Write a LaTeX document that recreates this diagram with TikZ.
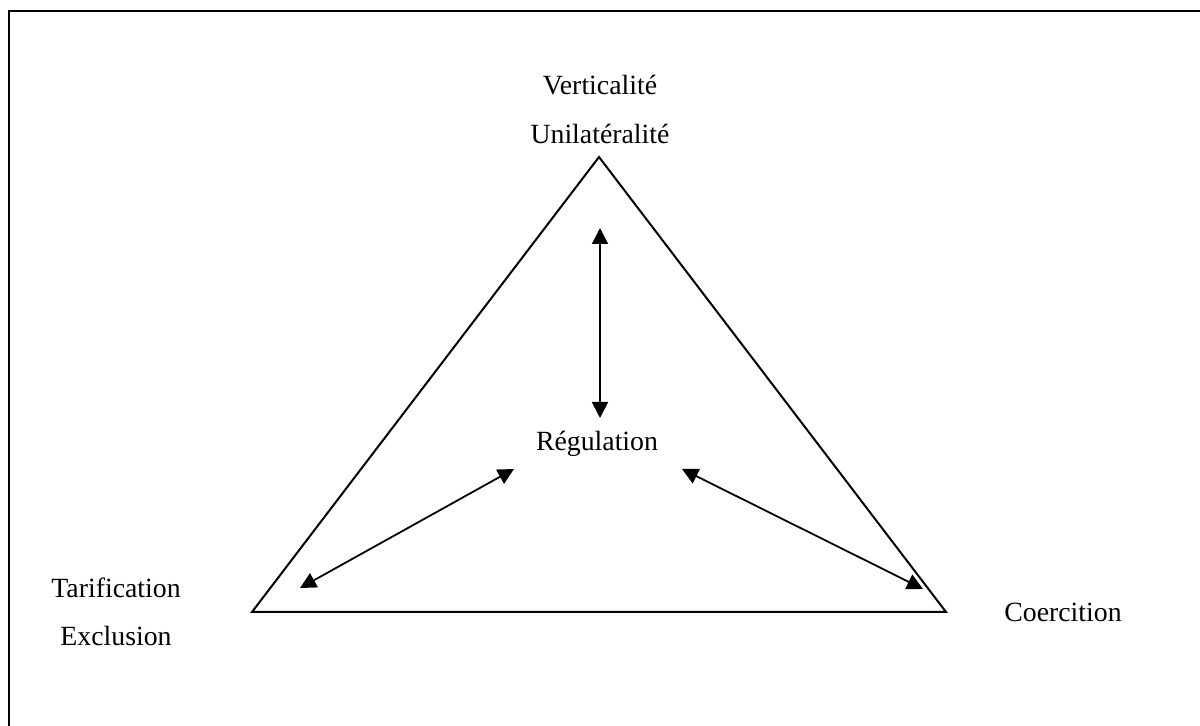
\documentclass[tikz,border=0pt]{standalone}
\usepackage{fontspec}
\setmainfont{Liberation Serif}
\usetikzlibrary{arrows.meta}
\begin{document}
\begin{tikzpicture}[x=0.5pt,y=-0.5pt,
  lbl/.style={font=\fontsize{13.9}{16}\selectfont, inner sep=0pt},
  edge/.style={line width=1pt, line join=miter},
  link/.style={line width=0.9pt, {Triangle[length=8pt,width=8pt]}-{Triangle[length=8pt,width=8pt]}}]
  \useasboundingbox (0,0) rectangle (1200,726);
  % outer frame, running off the right and bottom edges
  \begin{scope}
    \clip (0,0) rectangle (1200,726);
    \draw[line width=1.2pt] (9,11) rectangle (1210,740);
  \end{scope}
  % triangle
  \coordinate (top) at (599,157);
  \coordinate (bl) at (252,612);
  \coordinate (br) at (946,612);
  \draw[edge] (top) -- (br) -- (bl) -- cycle;
  % labels
  \node[lbl] (vert) at (600,85) {Verticalité};
  \node[lbl] (unil) at (600,134) {Unilatéralité};
  \node[lbl] (reg) at (597,444) {Régulation};
  \node[lbl] (tarif) at (116,588) {Tarification};
  \node[lbl] (excl) at (116,636) {Exclusion};
  \node[lbl] (coerc) at (1063,612) {Coercition};
  % arrow ends
  \coordinate (vt) at (600,228);
  \coordinate (vb) at (600,418);
  \coordinate (lt) at (514,469);
  \coordinate (lb) at (300,588);
  \coordinate (rt) at (682,469);
  \coordinate (rb) at (923,589);
  \draw[link] (vt) -- (vb);
  \draw[link] (lb) -- (lt);
  \draw[link] (rt) -- (rb);
\end{tikzpicture}
\end{document}
